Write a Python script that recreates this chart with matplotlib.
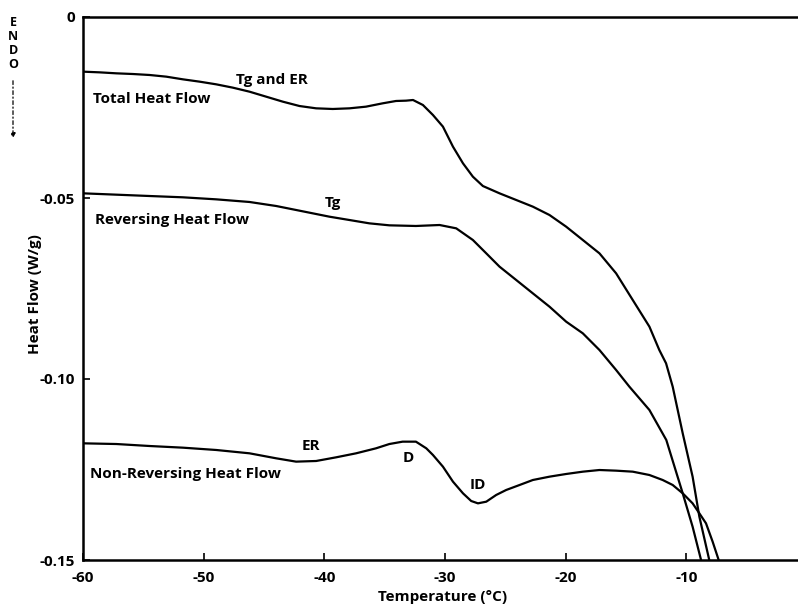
import matplotlib
matplotlib.use("Agg")
import matplotlib.pyplot as plt
from matplotlib.patches import FancyArrowPatch

plt.rcParams['font.family'] = ['Open Sans', 'DejaVu Sans']

# Data (Temperature in °C, Heat Flow in W/g)
total_x = [-60.0, -58.62, -57.24, -55.86, -54.48, -53.10, -51.72, -50.34, -48.96, -47.58,
           -46.20, -44.82, -43.44, -42.06, -40.68, -39.30, -37.92, -36.55, -35.17, -34.06,
           -33.23, -32.65, -31.83, -31.00, -30.17, -29.34, -28.51, -27.69, -26.86, -25.48,
           -24.10, -22.72, -21.34, -19.96, -18.58, -17.20, -15.82, -14.44, -13.06, -12.24,
           -11.68, -11.13, -10.30, -9.48, -8.92, -8.10]
total_y = [-0.01510, -0.01529, -0.01556, -0.01575, -0.01602, -0.01648, -0.01722, -0.01786,
           -0.01860, -0.01952, -0.02063, -0.02201, -0.02339, -0.02459, -0.02523, -0.02541,
           -0.02523, -0.02477, -0.02385, -0.02320, -0.02311, -0.02293, -0.02431, -0.02707,
           -0.03029, -0.03582, -0.04042, -0.04411, -0.04669, -0.04871, -0.05055, -0.05239,
           -0.05470, -0.05792, -0.06160, -0.06529, -0.07081, -0.07818, -0.08554, -0.09199,
           -0.09567, -0.10212, -0.11501, -0.12698, -0.13803, -0.15]

rev_x = [-60.0, -57.24, -54.48, -51.72, -48.96, -46.20, -43.99, -42.06, -39.58, -37.92,
         -36.27, -34.61, -32.41, -30.45, -29.07, -27.69, -26.58, -25.48, -24.10, -22.72,
         -21.34, -19.96, -18.58, -17.20, -15.82, -14.72, -13.06, -11.66, -10.30, -9.48, -8.78]
rev_y = [-0.04871, -0.04908, -0.04945, -0.04981, -0.05037, -0.05110, -0.05221, -0.05350,
         -0.05516, -0.05608, -0.05700, -0.05755, -0.05773, -0.05746, -0.05838, -0.06160,
         -0.06529, -0.06897, -0.07265, -0.07634, -0.08002, -0.08416, -0.08738, -0.09199,
         -0.09751, -0.10212, -0.10856, -0.11685, -0.13158, -0.14080, -0.15]

nonrev_x = [-60.0, -57.24, -54.48, -51.72, -48.96, -46.20, -43.99, -42.34, -40.68, -39.03,
            -37.37, -35.72, -34.61, -33.51, -32.41, -31.55, -31.00, -30.17, -29.34, -28.51,
            -27.83, -27.27, -26.58, -25.76, -24.93, -23.82, -22.72, -21.34, -19.96, -18.58,
            -17.20, -15.82, -14.44, -13.06, -11.96, -11.13, -10.30, -9.48, -8.92, -8.37,
            -7.82, -7.32]
nonrev_y = [-0.11777, -0.11796, -0.11851, -0.11897, -0.11961, -0.12053, -0.12191, -0.12283,
            -0.12265, -0.12164, -0.12053, -0.11915, -0.11796, -0.11731, -0.11731, -0.11915,
            -0.12099, -0.12422, -0.12836, -0.13158, -0.13370, -0.13435, -0.13389, -0.13204,
            -0.13066, -0.12928, -0.12790, -0.12698, -0.12624, -0.12560, -0.12514, -0.12532,
            -0.12560, -0.12652, -0.12790, -0.12928, -0.13158, -0.13435, -0.13711, -0.13987,
            -0.14494, -0.15]

x_ticks = [-60, -50, -40, -30, -20, -10, 0]
x_ticklabels = ['-60', '-50', '-40', '-30', '-20', '-10', '0']
y_ticks = [0, -0.05, -0.10, -0.15]
y_ticklabels = ['0', '-0.05', '-0.10', '-0.15']

curve_labels = [
    ("Total Heat Flow", -59.2, -0.0227),
    ("Tg and ER", -47.3, -0.0174),
    ("Reversing Heat Flow", -59.0, -0.0561),
    ("Tg", -40.0, -0.0515),
    ("Non-Reversing Heat Flow", -59.4, -0.1262),
    ("ER", -41.9, -0.1185),
    ("D", -33.5, -0.1217),
    ("ID", -28.0, -0.1293),
]

fig = plt.figure(figsize=(7.98, 6.04), dpi=100)
ax = fig.add_axes([83/798, 1 - 560/604, (807 - 83)/798, (560 - 17)/604])

for xs, ys in [(total_x, total_y), (rev_x, rev_y), (nonrev_x, nonrev_y)]:
    ax.plot(xs, ys, color='black', lw=1.6, solid_joinstyle='round', solid_capstyle='round')

ax.set_xlim(-60, 0)
ax.set_ylim(-0.15, 0)
ax.set_xticks(x_ticks)
ax.set_xticklabels(x_ticklabels)
ax.set_yticks(y_ticks)
ax.set_yticklabels(y_ticklabels)
ax.tick_params(direction='in', length=5, width=1.2, labelsize=11)
ax.tick_params(axis='x', pad=8)
ax.tick_params(axis='y', pad=6)
for lab in ax.get_xticklabels() + ax.get_yticklabels():
    lab.set_fontweight('bold')

for side in ['left', 'bottom', 'top']:
    ax.spines[side].set_linewidth(1.8)
ax.spines['right'].set_visible(False)

ax.set_xlabel("Temperature (\u00b0C)", fontsize=11, fontweight='bold')
ax.xaxis.set_label_coords(0.496, -0.056)
ax.set_ylabel("Heat Flow (W/g)", fontsize=11, fontweight='bold')
ax.yaxis.set_label_coords(-0.057, 0.49)

for txt, x, y in curve_labels:
    ax.text(x, y, txt, fontsize=11, fontweight='bold', ha='left', va='center')

# ENDO indicator
for i, ch in enumerate("ENDO"):
    fig.text(13/798, 1 - (23 + i * 14)/604, ch, fontsize=9, fontweight='bold',
             ha='center', va='center')
fig.add_artist(FancyArrowPatch(
    (13/798, 1 - 78/604), (13/798, 1 - 141/604), transform=fig.transFigure,
    arrowstyle='-|>', mutation_scale=7, linestyle=(0, (3, 2, 1, 2)), lw=0.9, color='black'))

fig.savefig("out.png", dpi=100)
